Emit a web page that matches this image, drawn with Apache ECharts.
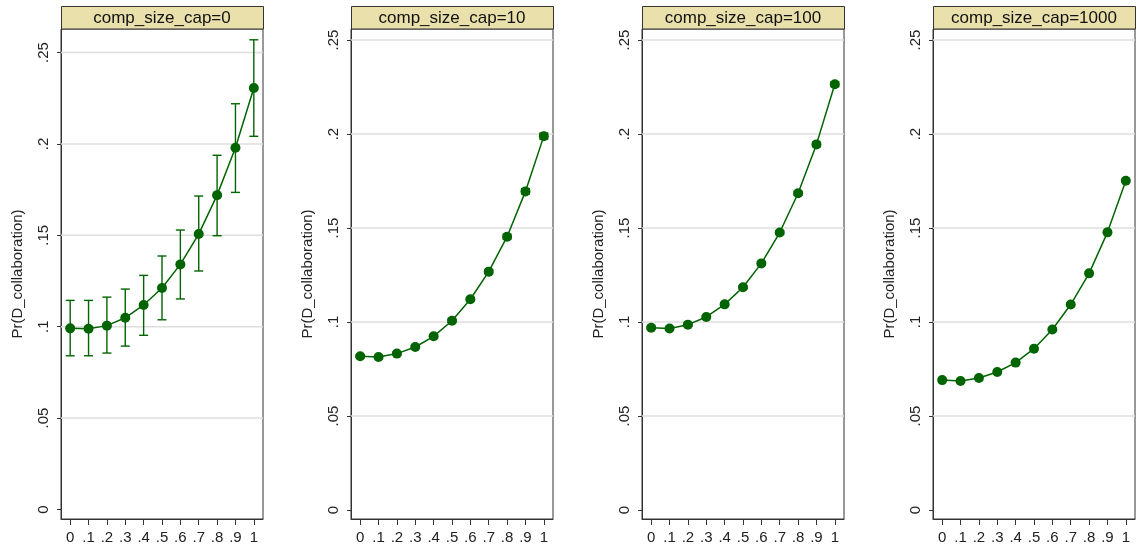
<!DOCTYPE html>
<html>
<head>
<meta charset="UTF-8">
<title>Pr(D_collaboration) by comp_size_cap</title>
<script src="https://cdn.jsdelivr.net/npm/echarts@6/dist/echarts.min.js"></script>
<style>
  html, body { margin: 0; padding: 0; background: #fff; }
  #chart { width: 1137px; height: 556px; }
</style>
</head>
<body>
<div id="chart"></div>
<script>
// x values and tick labels shared by every panel
const xValues = [0, 0.1, 0.2, 0.3, 0.4, 0.5, 0.6, 0.7, 0.8, 0.9, 1];
const xTickLabels = ['0', '.1', '.2', '.3', '.4', '.5', '.6', '.7', '.8', '.9', '1'];
const yTickValues = [0, 0.05, 0.1, 0.15, 0.2, 0.25];
const yTickLabels = ['0', '.05', '.1', '.15', '.2', '.25'];
const gridValues = [0.05, 0.1, 0.15, 0.2, 0.25];

const panelTitles = ['comp_size_cap=0', 'comp_size_cap=10', 'comp_size_cap=100', 'comp_size_cap=1000'];

// predicted probabilities and 95% CI
const cap0Mean = [0.0991, 0.0989, 0.1006, 0.1049, 0.1119, 0.1212, 0.1341, 0.1507, 0.1720, 0.1979, 0.2306];
const cap0Lo   = [0.0841, 0.0841, 0.0856, 0.0894, 0.0953, 0.1038, 0.1152, 0.1305, 0.1498, 0.1735, 0.2042];
const cap0Hi   = [0.1144, 0.1144, 0.1162, 0.1206, 0.1281, 0.1387, 0.1529, 0.1715, 0.1938, 0.2220, 0.2570];

const cap10Mean = [0.0818, 0.0814, 0.0832, 0.0867, 0.0924, 0.1007, 0.1121, 0.1268, 0.1454, 0.1695, 0.1989];
const cap10Lo   = [0.0810, 0.0806, 0.0824, 0.0859, 0.0916, 0.0998, 0.1111, 0.1257, 0.1442, 0.1681, 0.1973];
const cap10Hi   = [0.0826, 0.0822, 0.0840, 0.0875, 0.0932, 0.1016, 0.1131, 0.1279, 0.1466, 0.1709, 0.2005];

const cap100Mean = [0.0970, 0.0966, 0.0986, 0.1027, 0.1094, 0.1185, 0.1312, 0.1476, 0.1685, 0.1945, 0.2265];
const cap100Lo   = [0.0963, 0.0959, 0.0979, 0.1020, 0.1087, 0.1177, 0.1303, 0.1466, 0.1674, 0.1933, 0.2252];
const cap100Hi   = [0.0977, 0.0973, 0.0993, 0.1034, 0.1101, 0.1193, 0.1321, 0.1486, 0.1696, 0.1957, 0.2278];

const cap1000Mean = [0.0691, 0.0686, 0.0702, 0.0734, 0.0784, 0.0858, 0.0960, 0.1093, 0.1259, 0.1477, 0.1752];

const panelMeans = [cap0Mean, cap10Mean, cap100Mean, cap1000Mean];
const panelLo = [cap0Lo, cap10Lo, cap100Lo, null];
const panelHi = [cap0Hi, cap10Hi, cap100Hi, null];
const panelYMin = [-0.0052, -0.0048, -0.0048, -0.0048];
const panelYMax = [0.2629, 0.2559, 0.2559, 0.2559];

const gridLefts = [61, 351, 642, 933];
const gridWidth = 202;
const gridTop = 29;
const gridHeight = 490;

const green = '#006400';
const font = '"Liberation Sans", Arial, Helvetica, sans-serif';

function lookupLabel(values, labels, v) {
    let best = 0;
    for (let i = 1; i < values.length; i++) {
        if (Math.abs(values[i] - v) < Math.abs(values[best] - v)) best = i;
    }
    return labels[best];
}

function renderErrorBar(params, api) {
    const x = api.value(0);
    const lo = api.coord([x, api.value(1)]);
    const hi = api.coord([x, api.value(2)]);
    const w = 4.5;
    const style = { stroke: green, lineWidth: 1.4 };
    return {
        type: 'group',
        children: [
            { type: 'line', shape: { x1: lo[0], y1: lo[1], x2: hi[0], y2: hi[1] }, style: style },
            { type: 'line', shape: { x1: lo[0] - w, y1: lo[1], x2: lo[0] + w, y2: lo[1] }, style: style },
            { type: 'line', shape: { x1: hi[0] - w, y1: hi[1], x2: hi[0] + w, y2: hi[1] }, style: style }
        ]
    };
}

function renderGridLine(params, api) {
    const cs = params.coordSys;
    const p = api.coord([0, api.value(0)]);
    return {
        type: 'line',
        shape: { x1: cs.x, y1: p[1], x2: cs.x + cs.width, y2: p[1] },
        style: { stroke: '#dedede', lineWidth: 1.5 }
    };
}

const grids = [], xAxes = [], yAxes = [], series = [], graphics = [];

for (let i = 0; i < 4; i++) {
    grids.push({
        left: gridLefts[i], width: gridWidth, top: gridTop, height: gridHeight,
        show: true, borderColor: '#333', borderWidth: 1, backgroundColor: '#fff'
    });
    xAxes.push({
        type: 'value', gridIndex: i, min: -0.05, max: 1.05,
        axisLine: { show: true, onZero: false, lineStyle: { color: '#333', width: 1 } },
        axisTick: { show: true, length: 6, customValues: xValues, lineStyle: { color: '#333' } },
        axisLabel: {
            customValues: xValues, margin: 11,
            formatter: v => lookupLabel(xValues, xTickLabels, v),
            fontFamily: font, fontSize: 15, color: '#222'
        },
        splitLine: { show: false }
    });
    yAxes.push({
        type: 'value', gridIndex: i, min: panelYMin[i], max: panelYMax[i],
        name: 'Pr(D_collaboration)', nameLocation: 'middle', nameGap: 36,
        nameTextStyle: { fontFamily: font, fontSize: 15, color: '#222' },
        axisLine: { show: true, onZero: false, lineStyle: { color: '#333', width: 1 } },
        axisTick: { show: true, length: 4, customValues: yTickValues, lineStyle: { color: '#333' } },
        axisLabel: {
            customValues: yTickValues, rotate: 90, margin: 10,
            formatter: v => lookupLabel(yTickValues, yTickLabels, v),
            fontFamily: font, fontSize: 15, color: '#222'
        },
        splitLine: { show: false }
    });

    series.push({
        type: 'custom', xAxisIndex: i, yAxisIndex: i, silent: true, z: 1,
        renderItem: renderGridLine,
        data: gridValues.map(v => [v])
    });

    if (panelLo[i]) {
        series.push({
            type: 'custom', xAxisIndex: i, yAxisIndex: i, silent: true, z: 2,
            renderItem: renderErrorBar,
            data: xValues.map((x, k) => [x, panelLo[i][k], panelHi[i][k]])
        });
    }

    series.push({
        type: 'line', xAxisIndex: i, yAxisIndex: i, z: 3,
        data: xValues.map((x, k) => [x, panelMeans[i][k]]),
        symbol: 'circle', symbolSize: 10, showSymbol: true,
        lineStyle: { color: green, width: 1.5 },
        itemStyle: { color: green },
        animation: false
    });

    graphics.push({
        type: 'rect',
        shape: { x: gridLefts[i] + 0.5, y: 6.5, width: gridWidth, height: gridTop - 6.5 },
        style: { fill: '#eae0ac', stroke: '#333', lineWidth: 1 }
    });
    graphics.push({
        type: 'text',
        x: gridLefts[i] + gridWidth / 2, y: (6 + gridTop) / 2 + 0.5,
        style: {
            text: panelTitles[i], font: '17px ' + font, fill: '#111',
            align: 'center', verticalAlign: 'middle'
        }
    });
}

const chart = echarts.init(document.getElementById('chart'));
chart.setOption({
    backgroundColor: '#fff',
    animation: false,
    grid: grids,
    xAxis: xAxes,
    yAxis: yAxes,
    series: series,
    graphic: graphics
});
</script>
</body>
</html>
